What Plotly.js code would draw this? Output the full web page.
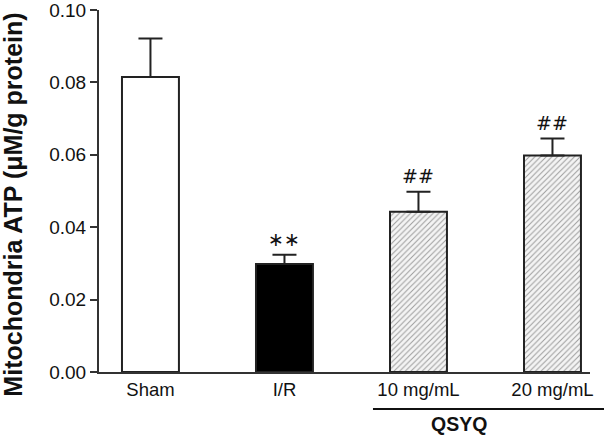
<!DOCTYPE html>
<html><head><meta charset="utf-8">
<script src="https://cdn.plot.ly/plotly-3.0.1.min.js"></script>
<style>body{margin:0;background:#fff}#c{width:604px;height:437px}</style>
</head><body><div id="c"></div>
<script>
const categories = ["Sham", "I/R", "10 mg/mL", "20 mg/mL"];
const values = [0.0815, 0.0298, 0.0443, 0.0598];
const errors = [0.0106, 0.0026, 0.0055, 0.0047];
const marks = ["", "∗∗", "##", "##"];
const fills = ["#ffffff", "#000000", "#f4f4f4", "#f4f4f4"];
const patterns = ["", "", "/", "/"];
const yTicks = [0, 0.02, 0.04, 0.06, 0.08, 0.10];
const yTickText = ["0.00", "0.02", "0.04", "0.06", "0.08", "0.10"];
const yTitle = "Mitochondria ATP (μM/g protein)";
const groupLabel = "QSYQ";

const x = categories.map((c, i) => i);
const trace = {
  type: "bar", x: x, y: values, width: 0.425,
  marker: {
    color: fills,
    line: {color: "#222", width: 2},
    pattern: {shape: patterns, fgcolor: "#c4c4c4", size: 4, solidity: 0.25, fillmode: "overlay"}
  },
  error_y: {type: "data", symmetric: false, array: errors, arrayminus: errors.map(() => 0), color: "#222", thickness: 2, width: 12},
  hoverinfo: "none"
};
const annotations = marks.map((m, i) => ({
  x: i, y: values[i] + errors[i], xref: "x", yref: "y", text: m, showarrow: false,
  yanchor: "bottom", yshift: 3, font: {family: "DejaVu Sans, sans-serif", size: 19, color: "#111"}
})).filter(a => a.text);
annotations.push({x: 0.792, y: -0.1436, xref: "paper", yref: "paper", text: "<b>" + groupLabel + "</b>", showarrow: false,
  yanchor: "middle", borderpad: 0, font: {family: "Liberation Sans, Arial", size: 19.5, color: "#111"}});
annotations.push({x: -0.1741, y: 0.461, xref: "paper", yref: "paper", text: "<b>" + yTitle + "</b>", showarrow: false,
  textangle: -90, xanchor: "center", yanchor: "middle", borderpad: 0, font: {family: "Liberation Sans, Arial", size: 25, color: "#111"}});
const layout = {
  width: 604, height: 437,
  margin: {l: 99, r: 14, t: 10, b: 65},
  paper_bgcolor: "#fff", plot_bgcolor: "#fff",
  showlegend: false,
  font: {family: "Liberation Sans, Arial", color: "#111"},
  xaxis: {range: [-0.384, 3.28], tickvals: x, ticktext: categories, ticks: "", showline: true, linecolor: "#333", linewidth: 2,
    showgrid: false, zeroline: false, tickfont: {size: 18.5}, fixedrange: true, ticklabeloverflow: "allow"},
  yaxis: {range: [0, 0.1], tickvals: yTicks, ticktext: yTickText, ticks: "outside", ticklen: 7, tickwidth: 2, tickcolor: "#333",
    showline: true, linecolor: "#333", linewidth: 2, showgrid: false, zeroline: false, tickfont: {size: 19},
    ticklabeloverflow: "allow"},
  shapes: [{type: "line", xref: "paper", yref: "paper", x0: 0.558, x1: 1.03, y0: -0.102, y1: -0.102, line: {color: "#111", width: 2}}],
  annotations: annotations
};
Plotly.newPlot("c", [trace], layout, {staticPlot: true});
</script></body></html>
